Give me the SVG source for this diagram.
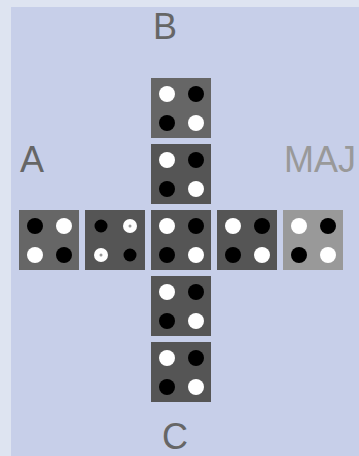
<svg xmlns="http://www.w3.org/2000/svg" width="359" height="456" viewBox="0 0 359 456">
<style>
.lbl{font-family:"Liberation Sans",Arial,sans-serif;font-size:36px;fill:#666}
.maj{fill:#999}
.w{fill:#fff}
.b{fill:#000}
</style>
<rect x="0" y="0" width="359" height="456" fill="#dee4f1"/>
<rect x="11" y="7" width="348" height="449" fill="#c7cfe9"/>
<text class="lbl" x="153" y="39">B</text>
<text class="lbl" x="20" y="172">A</text>
<text class="lbl maj" x="284" y="172">MAJ</text>
<text class="lbl" x="162" y="449">C</text>
<g id="b1"><rect x="151" y="78" width="60" height="60" fill="#666"/>
<circle class="w" cx="167" cy="94" r="8"/><circle class="b" cx="196" cy="94" r="8"/><circle class="b" cx="167" cy="123" r="8"/><circle class="w" cx="196" cy="123" r="8"/></g>
<g id="b2"><rect x="151" y="144" width="60" height="60" fill="#555"/>
<circle class="w" cx="167" cy="160" r="8"/><circle class="b" cx="196" cy="160" r="8"/><circle class="b" cx="167" cy="189" r="8"/><circle class="w" cx="196" cy="189" r="8"/></g>
<g id="a1"><rect x="19" y="210" width="60" height="60" fill="#666"/>
<circle class="b" cx="35" cy="226" r="8"/><circle class="w" cx="64" cy="226" r="8"/><circle class="w" cx="35" cy="255" r="8"/><circle class="b" cx="64" cy="255" r="8"/></g>
<g id="a2"><rect x="85" y="210" width="60" height="60" fill="#555"/>
<circle class="b" cx="101" cy="226" r="6.5"/><circle class="w" cx="130" cy="226" r="7"/><circle fill="#999" cx="130" cy="226" r="1.5"/><circle class="w" cx="101" cy="255" r="7"/><circle fill="#999" cx="101" cy="255" r="1.5"/><circle class="b" cx="130" cy="255" r="6.5"/></g>
<g id="center"><rect x="151" y="210" width="60" height="60" fill="#555"/>
<circle class="w" cx="167" cy="226" r="8"/><circle class="b" cx="196" cy="226" r="8"/><circle class="b" cx="167" cy="255" r="8"/><circle class="w" cx="196" cy="255" r="8"/></g>
<g id="m1"><rect x="217" y="210" width="60" height="60" fill="#555"/>
<circle class="w" cx="233" cy="226" r="8"/><circle class="b" cx="262" cy="226" r="8"/><circle class="b" cx="233" cy="255" r="8"/><circle class="w" cx="262" cy="255" r="8"/></g>
<g id="maj"><rect x="283" y="210" width="60" height="60" fill="#999"/>
<circle class="w" cx="299" cy="226" r="8"/><circle class="b" cx="328" cy="226" r="8"/><circle class="b" cx="299" cy="255" r="8"/><circle class="w" cx="328" cy="255" r="8"/></g>
<g id="c1"><rect x="151" y="276" width="60" height="60" fill="#555"/>
<circle class="w" cx="167" cy="292" r="8"/><circle class="b" cx="196" cy="292" r="8"/><circle class="b" cx="167" cy="321" r="8"/><circle class="w" cx="196" cy="321" r="8"/></g>
<g id="c2"><rect x="151" y="342" width="60" height="60" fill="#555"/>
<circle class="w" cx="167" cy="358" r="8"/><circle class="b" cx="196" cy="358" r="8"/><circle class="b" cx="167" cy="387" r="8"/><circle class="w" cx="196" cy="387" r="8"/></g>
<g id="connectors"></g>
</svg>
